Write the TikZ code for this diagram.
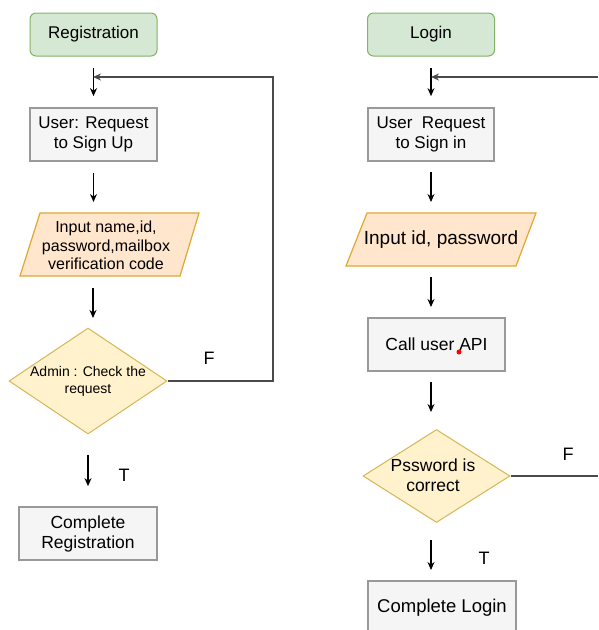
\documentclass[tikz,border=0pt]{standalone}
\usepackage{fontspec}
\setmainfont{Liberation Sans}
\usetikzlibrary{shapes.geometric,arrows.meta}
\definecolor{gfill}{HTML}{D5E8D4}
\definecolor{gline}{HTML}{82B366}
\definecolor{pfill}{HTML}{F5F5F5}
\definecolor{pline}{HTML}{999999}
\definecolor{ofill}{HTML}{FFE6CC}
\definecolor{oline}{HTML}{E0A830}
\definecolor{yfill}{HTML}{FFF2CC}
\definecolor{yline}{HTML}{D6B656}
\definecolor{fbline}{HTML}{4A4A4A}
\tikzset{
  startbox/.style={draw=gline, fill=gfill, rounded corners=6pt, line width=1pt,
    minimum width=127pt, minimum height=43pt, inner sep=0pt, font=\fontsize{17}{20}\selectfont},
  procbox/.style={draw=pline, fill=pfill, line width=1.7pt, inner sep=0pt, align=center},
  iobox/.style={draw=oline, fill=ofill, line width=1.2pt},
  decbox/.style={draw=yline, fill=yfill, line width=1pt, shape=diamond, inner sep=0pt},
  txt/.style={align=center, inner sep=0pt},
  arr/.style={-{Stealth[length=8pt,width=7pt]}, line width=1.2pt, black},
  fb/.style={line width=1.5pt, draw=fbline},
  fbarr/.style={fb, -{Stealth[length=8pt,width=7pt]}},
  lbl/.style={font=\fontsize{18}{20}\selectfont, inner sep=0pt}
}
\begin{document}
\begin{tikzpicture}[x=1pt,y=-1pt]
\useasboundingbox (0,0) rectangle (598,630);
\clip (0,0) rectangle (598,630);
\fill[white] (0,0) rectangle (598,630);

% ---------- left column ----------
\node[startbox] (reg) at (93.5,34.5) {Registration};
\node[procbox, minimum width=127pt, minimum height=53pt, font=\fontsize{17}{20}\selectfont]
  (req1) at (93.5,134.5) {User: Request\\to Sign Up};
\draw[iobox] (40,213) -- (199,213) -- (180,276) -- (20,276) -- cycle;
\node[txt, font=\fontsize{16}{18.5}\selectfont] (in1) at (106,245.5)
  {Input name,id,\\password,mailbox\\verification code};
\node[decbox, minimum width=158pt, minimum height=106pt] (dec1) at (88,381) {};
\node[txt, font=\fontsize{14}{17}\selectfont] (dec1t) at (88,381) {Admin : Check the\\request};
\node[procbox, minimum width=138pt, minimum height=53pt, font=\fontsize{17.5}{20}\selectfont]
  (done1) at (88,533.5) {Complete\\Registration};

\coordinate (j1) at (93,77);
\coordinate (c1) at (273,77);
\draw[arr] ([yshift=-11pt]reg.south) -- ([yshift=11pt]req1.north);
\draw[arr] ([yshift=-11pt]req1.south) -- ([yshift=11pt]req1.north |- 0,213);
\draw[arr] (93,288) -- (93,318);
\draw[arr] ([yshift=-20pt]dec1.south) -- ([yshift=20pt]done1.north);
\draw[fbarr] (dec1.east) -- (dec1.east -| c1) -- (c1) -- (j1);
\node[lbl] (f1) at (209,358) {F};
\node[lbl] (t1) at (124,475) {T};

% ---------- right column ----------
\node[startbox] (login) at (431,34.5) {Login};
\node[procbox, minimum width=126pt, minimum height=53pt, font=\fontsize{17}{20}\selectfont]
  (req2) at (431,134.5) {User\ \ Request\\to Sign in};
\draw[iobox] (367,213) -- (536,213) -- (516,266) -- (346,266) -- cycle;
\node[txt, font=\fontsize{19}{22}\selectfont] (in2) at (441,239.5) {Input id, password};
\node[procbox, minimum width=137pt, minimum height=53pt, font=\fontsize{17.5}{20}\selectfont]
  (api) at (436.5,344.5) {Call user API};
\fill[red] (459,352) circle (2.5);
\node[decbox, minimum width=147pt, minimum height=93pt] (dec2) at (436.5,476) {};
\node[txt, font=\fontsize{17.5}{20}\selectfont] (dec2t) at (433,475) {Pssword is\\correct};
\node[procbox, minimum width=148pt, minimum height=53pt, font=\fontsize{18.5}{21}\selectfont]
  (done2) at (442,607.5) {Complete Login};

\coordinate (j2) at (431,77);
\coordinate (c2) at (598,77);
\coordinate (c3) at (598,476);
\draw[arr] ([yshift=-11pt]login.south) -- ([yshift=11pt]req2.north);
\draw[arr] (431,172) -- (431,202);
\draw[arr] (431,277) -- (431,307);
\draw[arr] (431,382) -- (431,412);
\draw[arr] (431,540) -- (431,570);
\draw[fbarr] (c2) -- (j2);
\draw[fb] (dec2.east) -- (c3);
\node[lbl] (f2) at (568,454) {F};
\node[lbl] (t2) at (484,558) {T};
\end{tikzpicture}
\end{document}
